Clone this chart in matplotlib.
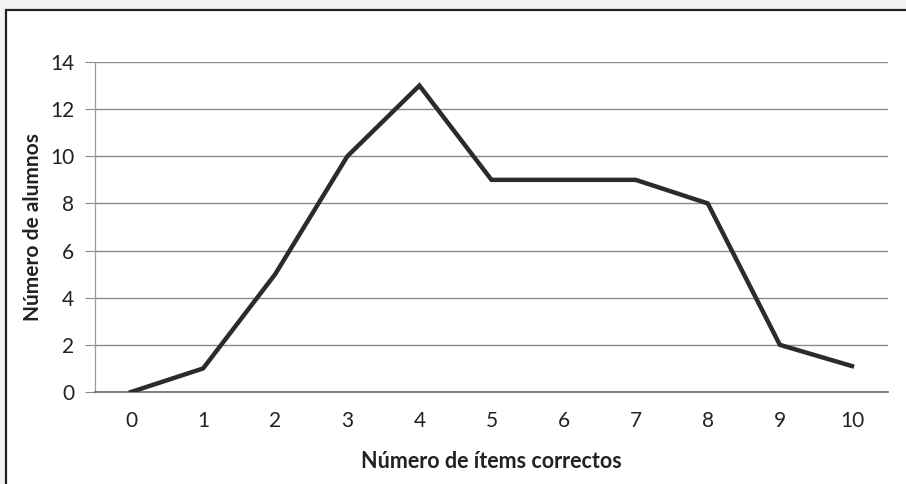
#!/usr/bin/env python3
# Line chart: number of students per number of correct items

import matplotlib.pyplot as plt
from matplotlib.patches import Rectangle

# Data
items = [0, 1, 2, 3, 4, 5, 6, 7, 8, 9, 10]
alumnos = [0, 1, 5, 10, 13, 9, 9, 9, 8, 2, 1.1]
yticks = [0, 2, 4, 6, 8, 10, 12, 14]

plt.rcParams['font.family'] = ['Lato', 'DejaVu Sans']

W, H = 906, 484
fig = plt.figure(figsize=(W / 100, H / 100), dpi=100, facecolor='#f2f2f2')

# Scanned frame
fig.patches.append(Rectangle((6 / W, -0.05), 1.1, 1 - 10 / H + 0.05,
                             transform=fig.transFigure, facecolor='white',
                             edgecolor='#222222', linewidth=1.6, zorder=-5))

ax = fig.add_axes([95 / W, 1 - 392 / H, (888 - 95) / W, (392 - 62) / H])
ax.set_facecolor('none')
ax.set_zorder(2)

ax.plot(items, alumnos, color='#2b2b2b', linewidth=3.2, solid_joinstyle='miter',
        zorder=3)

ax.set_xlim(-0.5, 10.5)
ax.set_ylim(0, 14)
ax.set_xticks(items)
ax.set_yticks(yticks)
ax.grid(axis='y', color='#8a8a8a', linewidth=1.0)
ax.set_axisbelow(True)

for side in ['top', 'right']:
    ax.spines[side].set_visible(False)
ax.spines['left'].set_color('#9a9a9a')
ax.spines['left'].set_linewidth(0.9)
ax.spines['bottom'].set_color('#6a6a6a')
ax.spines['bottom'].set_linewidth(1.2)

ax.tick_params(axis='y', length=7, color='#8a8a8a', labelsize=15, pad=8,
               labelcolor='#222222')
ax.tick_params(axis='x', length=0, labelsize=15, pad=14, labelcolor='#222222')

ax.set_xlabel('Número de ítems correctos', fontsize=15.5, fontweight='bold',
              color='#222222', labelpad=14)
ax.set_ylabel('Número de alumnos', fontsize=15, fontweight='bold',
              color='#222222', labelpad=5)

fig.savefig('out.png', dpi=100, facecolor=fig.get_facecolor())
